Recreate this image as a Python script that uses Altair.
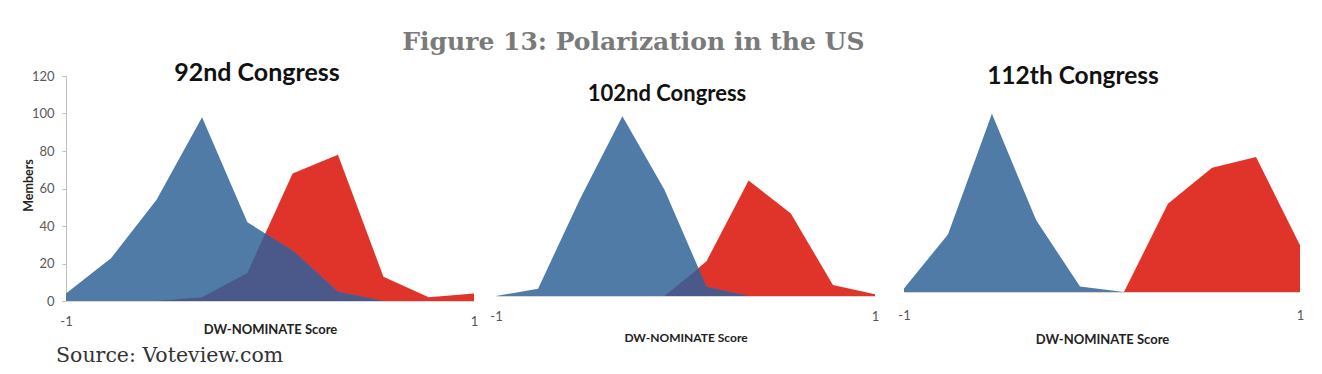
import altair as alt
import pandas as pd

# ---- data ----
X_BINS = [-1, -0.778, -0.556, -0.333, -0.111, 0.111, 0.333, 0.556, 0.778, 1]

DEM_92 = [4, 23, 54, 98, 42, 27, 5, 0, 0, 0]
REP_92 = [0, 0, 0, 2, 15, 68, 78, 13, 2, 4]
OVL_92_X = [-0.556, -0.333, -0.111, -0.023, 0.111, 0.333, 0.556]
OVL_92 = [0, 2, 15, 36, 27, 5, 0]

DEM_102 = [0, 4, 53, 98, 58, 5, 0, 0, 0, 0]
REP_102 = [0, 0, 0, 0, 0, 19, 63, 45, 6, 1]
OVL_102_X = [-0.111, 0.068, 0.111, 0.333]
OVL_102 = [0, 15, 5, 0]

DEM_112 = [2, 32, 99, 40, 3, 0, 0, 0, 0, 0]
REP_112 = [0, 0, 0, 0, 0, 0, 49, 69, 75, 26]

PANEL_TITLES = ["92nd Congress", "102nd Congress", "112th Congress"]
MAIN_TITLE = "Figure 13: Polarization in the US"
SOURCE = ["Source: Voteview.com"]
Y_TICKS = [0, 20, 40, 60, 80, 100, 120]
X_TICKS = [-1, 1]

BLUE = "#4f7ba6"
RED = "#e0342a"
OVL = "#4a598a"


def rows(panel, party, xs, ys):
    return [{"panel": panel, "party": party, "x": a, "y": b} for a, b in zip(xs, ys)]


records = []
records += rows("92", "dem", X_BINS, DEM_92)
records += rows("92", "rep", X_BINS, REP_92)
records += rows("92", "ovl", OVL_92_X, OVL_92)
records += rows("102", "dem", X_BINS, DEM_102)
records += rows("102", "rep", X_BINS, REP_102)
records += rows("102", "ovl", OVL_102_X, OVL_102)
records += rows("112", "dem", X_BINS, DEM_112)
records += rows("112", "rep", X_BINS, REP_112)
df = pd.DataFrame(records)

FONT = "Lato"


def make_panel(pid, title, tsize, width, height, xrange, title_dx, title_dy, xtitle_y,
               xtitle_size, xlabel_pad, yaxis):
    xaxis = alt.Axis(
        values=X_TICKS,
        labelExpr="datum.value < 0 ? '-1' : '1'",
        labelFlush=False,
        labelOverlap=False,
        ticks=False,
        tickSize=0,
        grid=False,
        domain=True,
        domainColor="#d6d6d6",
        labelFont=FONT,
        labelFontSize=13,
        labelColor="#555555",
        labelPadding=xlabel_pad,
        title="DW-NOMINATE Score",
        titleFont=FONT,
        titleFontSize=xtitle_size,
        titleFontWeight="bold",
        titleColor="#222222",
        titleBaseline="middle",
        titleY=xtitle_y,
    )
    if xrange is not None:
        xscale = alt.Scale(domain=[-1, 1], nice=False, zero=False, range=xrange)
    else:
        xscale = alt.Scale(domain=[-1, 1], nice=False, zero=False)
    x = alt.X("x:Q", scale=xscale, axis=xaxis)
    if yaxis:
        ax = alt.Axis(
            values=Y_TICKS,
            grid=False,
            domainColor="#bfbfbf",
            tickColor="#bfbfbf",
            tickSize=4,
            labelPadding=8,
            labelFont=FONT,
            labelFontSize=13,
            labelColor="#595959",
            title="Members",
            titleFont=FONT,
            titleFontSize=12.5,
            titleFontWeight="bold",
            titleColor="#222222",
            titleBaseline="middle",
            titleX=-38,
            titleY=109,
        )
    else:
        ax = None
    y = alt.Y("y:Q", scale=alt.Scale(domain=[0, 120], nice=False), axis=ax)

    base = alt.Chart(df).transform_filter(alt.datum.panel == pid)
    layers = [
        base.transform_filter(alt.datum.party == "rep").mark_area(color=RED, interpolate="linear").encode(x=x, y=y),
        base.transform_filter(alt.datum.party == "dem").mark_area(color=BLUE, interpolate="linear").encode(x=x, y=y),
    ]
    if pid != "112":
        layers.append(
            base.transform_filter(alt.datum.party == "ovl").mark_area(color=OVL, interpolate="linear").encode(x=x, y=y)
        )
    if pid == "92":
        layers.append(
            alt.Chart(pd.DataFrame({"t": SOURCE})).mark_text(
                font="DejaVu Serif", fontSize=20.5, color="#333333", align="left", baseline="alphabetic"
            ).encode(text="t:N", x=alt.value(-10), y=alt.value(286))
        )
    return alt.layer(*layers).properties(
        width=width,
        height=height,
        title=alt.TitleParams(
            text=title,
            font=FONT,
            fontSize=tsize,
            fontWeight="bold",
            color="#111111",
            anchor="middle",
            frame="group",
            offset=0,
            dx=title_dx,
            dy=title_dy,
        ),
    )


p1 = make_panel("92", PANEL_TITLES[0], 25, 408, 225, None, -13, 16, 28, 13, 14, True)
p2 = make_panel("102", PANEL_TITLES[1], 22, 379, 220, None, -18.5, 30, 41, 12, 14, False)
p3 = make_panel("112", PANEL_TITLES[2], 24.5, 403, 216, [7, 403], -25.5, 13, 47, 13, 17, False)

chart = alt.hconcat(p1, p2, p3, spacing=22, bounds="flush").properties(
    title=alt.TitleParams(
        text=MAIN_TITLE,
        font="DejaVu Serif",
        fontSize=25,
        fontWeight="bold",
        color="#7a7a7a",
        anchor="middle",
        offset=6,
        dx=-29.5,
    ),
    padding={"left": 14, "top": 22, "right": 5, "bottom": 5},
).configure_view(strokeWidth=0)

chart.save("out.html", embed_options={"renderer": "svg", "actions": False})
